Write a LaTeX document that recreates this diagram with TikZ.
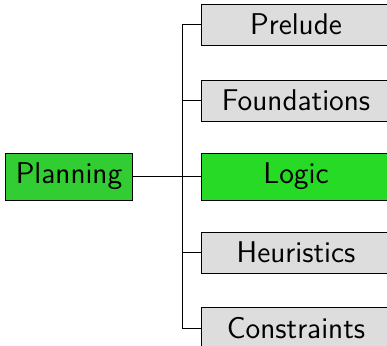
\documentclass[tikz,border=0pt]{standalone}
\usepackage{fontspec}
\definecolor{rootgreen}{RGB}{50,205,50}
\definecolor{pickgreen}{RGB}{38,218,38}
\definecolor{boxgray}{RGB}{221,221,221}
\begin{document}
\begin{tikzpicture}[x=0.5pt,y=0.5pt,
	every node/.style={draw,inner sep=5pt,font=\fontsize{15}{18}\selectfont\sffamily},
	topic/.style={fill=boxgray,minimum width=95pt},
	grow'=east,level distance=113.5pt,sibling distance=38pt,
	edge from parent path={(\tikzparentnode.east) -- ++(25pt,0) |- (\tikzchildnode.west)}]
\useasboundingbox (0,0) rectangle (387,-346);
\node[fill=rootgreen] (plan) at (69,-176.5) {Planning}
child {node[topic] (prel) {Prelude}}
child {node[topic] (found) {Foundations}}
child {node[topic,fill=pickgreen] (logic) {Logic}}
child {node[topic] (heur) {Heuristics}}
child {node[topic] (cons) {Constraints}};
\end{tikzpicture}
\end{document}
